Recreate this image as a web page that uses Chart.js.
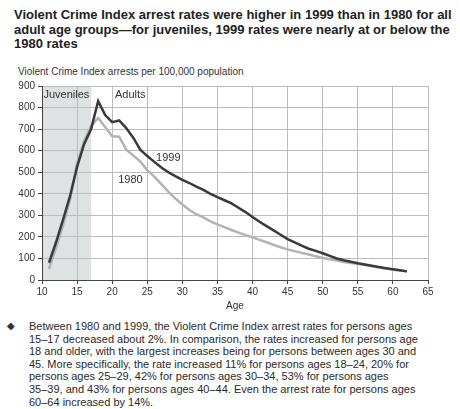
<!DOCTYPE html>
<html>
<head>
<meta charset="utf-8">
<script src="https://cdn.jsdelivr.net/npm/chart.js@4"></script>
<style>
  body { margin: 0; width: 460px; height: 409px; background: #fff; font-family: "Liberation Sans", Arial, sans-serif; color: #222; position: relative; overflow: hidden; }
  #title { position: absolute; left: 14px; top: 8px; font-weight: bold; font-size: 13px; line-height: 14.5px; white-space: nowrap; }
  #ycap { position: absolute; left: 18px; top: 66px; font-size: 10px; color: #333; white-space: nowrap; }
  #wrap { position: absolute; left: 0; top: 62px; width: 460px; height: 250px; }
  #bullet { position: absolute; left: 7px; top: 320px; font-size: 10px; color: #333; }
  #note { position: absolute; left: 29px; top: 320px; font-size: 11px; line-height: 12.6px; color: #2a2a2a; white-space: nowrap; }
</style>
</head>
<body>
<div id="title">Violent Crime Index arrest rates were higher in 1999 than in 1980 for all<br>adult age groups—for juveniles, 1999 rates were nearly at or below the<br>1980 rates</div>
<div id="ycap">Violent Crime Index arrests per 100,000 population</div>
<div id="wrap"><canvas id="LineChart" width="460" height="250"></canvas></div>
<div id="bullet">◆</div>
<div id="note">Between 1980 and 1999, the Violent Crime Index arrest rates for persons ages<br>15–17 decreased about 2%. In comparison, the rates increased for persons age<br>18 and older, with the largest increases being for persons between ages 30 and<br>45. More specifically, the rate increased 11% for persons ages 18–24, 20% for<br>persons ages 25–29, 42% for persons ages 30–34, 53% for persons ages<br>35–39, and 43% for persons ages 40–44. Even the arrest rate for persons ages<br>60–64 increased by 14%.</div>
<script>
// idade 11 a 62
const ages = [11,12,13,14,15,16,17,18,19,20,21,22,23,24,25,26,27,28,29,30,31,32,33,34,35,36,
  37,38,39,40,41,42,43,44,45,46,47,48,49,50,51,52,53,54,55,56,57,58,59,60,61,62];

const rates1999 = [80,175,280,390,525,630,700,830,765,732,740,705,660,605,575,548,522,500,482,465,450,433,
  418,400,385,370,355,335,315,292,270,250,230,210,190,175,160,145,135,124,112,100,92,85,78,72,66,60,55,50,45,40];

const rates1980 = [50,150,255,375,540,645,715,752,710,667,665,605,578,550,510,480,445,410,378,350,325,305,
  290,272,258,245,232,220,208,198,186,175,163,152,142,134,126,118,110,102,96,90,84,79,74,69,64,58,53,48,44,40];

const juvenileRange = [10, 17];

const labelFont = '11px "Liberation Sans", Arial, sans-serif';

const shadePlugin = {
  id: 'shade',
  beforeDraw(chart) {
    const { ctx, chartArea, scales } = chart;
    const x0 = scales.x.getPixelForValue(juvenileRange[0]);
    const x1 = scales.x.getPixelForValue(juvenileRange[1]);
    ctx.save();
    ctx.fillStyle = '#dfe2e2';
    ctx.fillRect(x0, chartArea.top, x1 - x0, chartArea.bottom - chartArea.top);
    ctx.restore();
  }
};

const textPlugin = {
  id: 'texts',
  afterDatasetsDraw(chart) {
    const { ctx, scales } = chart;
    const put = (txt, ax, val, align) => {
      ctx.textAlign = align;
      ctx.fillText(txt, scales.x.getPixelForValue(ax), scales.y.getPixelForValue(val));
    };
    ctx.save();
    ctx.font = labelFont;
    ctx.fillStyle = '#333';
    ctx.textBaseline = 'middle';
    put('Juveniles', 10.2, 857, 'left');
    put('Adults', 20.4, 857, 'left');
    put('1999', 28, 567, 'center');
    put('1980', 22.6, 465, 'center');
    ctx.restore();
  }
};

const toPoints = (vals) => ages.map((a, i) => ({ x: a, y: vals[i] }));

new Chart(document.getElementById('LineChart'), {
  type: 'line',
  data: {
    datasets: [
      { label: '1999', data: toPoints(rates1999), borderColor: '#3a3a3a', borderWidth: 2.5 },
      { label: '1980', data: toPoints(rates1980), borderColor: '#b3b3b3', borderWidth: 2.5 }
    ]
  },
  options: {
    responsive: false,
    animation: false,
    layout: { padding: { left: 0, right: 32, top: 24, bottom: 0 } },
    elements: { point: { radius: 0 }, line: { tension: 0 } },
    plugins: { legend: { display: false }, tooltip: { enabled: false } },
    scales: {
      x: {
        type: 'linear',
        min: 10, max: 65,
        afterFit: (s) => { s.height = 32; },
        ticks: { stepSize: 5, color: '#333', padding: 2, font: { size: 10, family: '"Liberation Sans", Arial' } },
        grid: { color: '#bcbcbc', tickColor: '#444', tickLength: 4 },
        border: { color: '#444' },
        title: { display: true, text: 'Age', color: '#333', padding: { top: 0, bottom: 0 }, font: { size: 10, family: '"Liberation Sans", Arial' } }
      },
      y: {
        min: 0, max: 900,
        afterFit: (s) => { s.width = 42; },
        ticks: { stepSize: 100, color: '#333', padding: 3, font: { size: 10, family: '"Liberation Sans", Arial' } },
        grid: { color: '#bcbcbc', tickColor: '#444', tickLength: 4 },
        border: { color: '#444' }
      }
    }
  },
  plugins: [shadePlugin, textPlugin]
});
</script>
</body>
</html>
